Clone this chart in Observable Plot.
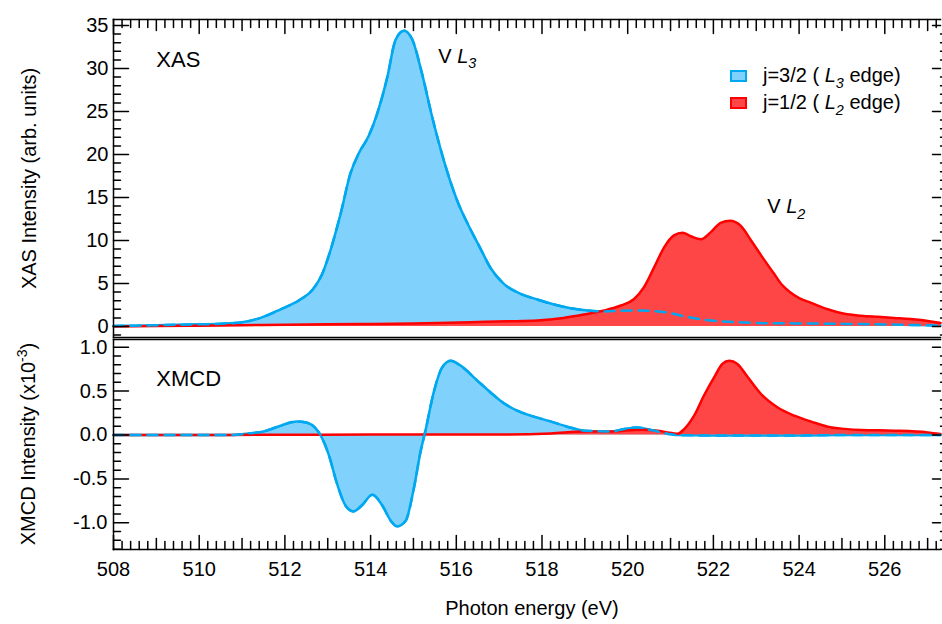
<!DOCTYPE html>
<html><head><meta charset="utf-8">
<script src="https://cdn.jsdelivr.net/npm/d3@7"></script>
<script src="https://cdn.jsdelivr.net/npm/@observablehq/plot@0.6"></script>
<style>
body{margin:0;background:#fff;}
#wrap{position:relative;width:942px;height:624px;overflow:hidden;background:#fff;}
#wrap svg{position:absolute;left:0;}
</style></head><body><div id="wrap"></div>
<script>
// ---------- data ----------
const xasEnergyL3 = [508, 508.5, 509, 509.5, 510, 510.5, 511, 511.4, 511.9, 512.35, 512.65, 512.87, 513.06, 513.3, 513.53, 513.72, 513.96, 514.15, 514.39, 514.58, 514.78, 514.97, 515.2, 515.44, 515.71, 516.02, 516.33, 516.57, 516.8, 517.11, 517.5, 517.89, 518.28, 518.67, 519.06, 519.45, 519.84, 520.23, 520.62, 521.0, 521.3, 521.63, 521.94, 522.56, 523.19, 523.9, 524.7, 525.45, 526.4, 527.3];
const xasIntensityL3 = [0.05, 0.1, 0.15, 0.2, 0.25, 0.32, 0.5, 0.95, 2.0, 3.1, 4.3, 6.1, 8.8, 13.1, 17.8, 20.1, 22.2, 24.7, 29.0, 33.3, 34.4, 33.4, 29.4, 24.3, 19.3, 14.65, 11.3, 9.0, 6.8, 4.96, 3.8, 3.14, 2.56, 2.13, 1.86, 1.74, 1.84, 1.86, 1.78, 1.55, 1.2, 0.9, 0.7, 0.5, 0.38, 0.36, 0.32, 0.28, 0.2, 0.12];

const xasEnergyL2 = [508, 509, 510, 511, 512, 513, 514, 515, 516.33, 517.2, 517.89, 518.5, 518.98, 519.45, 519.84, 520.15, 520.38, 520.62, 520.85, 521.08, 521.28, 521.47, 521.71, 521.94, 522.17, 522.39, 522.64, 522.88, 523.11, 523.42, 523.6, 523.8, 524.0, 524.28, 524.67, 525.06, 525.45, 525.84, 526.22, 526.6, 526.85, 527.3];
const xasIntensityL2 = [0.0, 0.05, 0.1, 0.15, 0.2, 0.25, 0.3, 0.35, 0.5, 0.6, 0.7, 1.0, 1.4, 1.86, 2.44, 3.2, 4.57, 6.9, 9.2, 10.6, 10.9, 10.5, 10.15, 10.97, 12.06, 12.3, 11.7, 10.0, 8.3, 6.1, 4.85, 3.95, 3.3, 2.75, 2.0, 1.47, 1.25, 1.12, 1.0, 0.88, 0.75, 0.4];

const xmcdEnergyL3 = [508, 509, 510, 510.73, 511.19, 511.5, 511.9, 512.28, 512.52, 512.71, 512.83, 513.02, 513.22, 513.41, 513.6, 513.8, 514.04, 514.27, 514.47, 514.62, 514.82, 515.0, 515.17, 515.28, 515.48, 515.67, 515.87, 516.1, 516.49, 516.8, 517.03, 517.42, 517.81, 518.2, 518.59, 518.98, 519.6, 519.92, 520.23, 520.54, 520.93, 521.16, 522, 523, 524, 525, 526, 527.3];
const xmcdIntensityL3 = [0, 0, 0, 0, 0.02, 0.04, 0.106, 0.155, 0.14, 0.08, 0.0, -0.22, -0.56, -0.8, -0.87, -0.8, -0.68, -0.8, -0.976, -1.04, -0.976, -0.63, -0.18, 0.05, 0.5, 0.77, 0.846, 0.79, 0.62, 0.485, 0.39, 0.277, 0.21, 0.155, 0.095, 0.05, 0.04, 0.068, 0.087, 0.057, 0.015, 0.0, -0.005, -0.005, -0.005, 0, 0, 0];

const xmcdEnergyL2 = [508, 510, 512, 514, 516, 517.03, 518.2, 518.98, 519.6, 520.3, 520.7, 520.93, 521.16, 521.32, 521.55, 521.78, 522.02, 522.21, 522.37, 522.56, 522.8, 523.11, 523.5, 523.89, 524.3, 524.67, 525.06, 525.45, 526.22, 527.0, 527.3];
const xmcdIntensityL2 = [0, 0, 0.003, 0.005, 0.005, 0.005, 0.017, 0.04, 0.04, 0.06, 0.05, 0.03, 0.015, 0.068, 0.22, 0.45, 0.66, 0.81, 0.846, 0.81, 0.66, 0.467, 0.314, 0.22, 0.15, 0.095, 0.07, 0.057, 0.05, 0.03, 0.011];

const xasYTicks = [0, 5, 10, 15, 20, 25, 30, 35];
const xmcdYTicks = [-1.0, -0.5, 0.0, 0.5, 1.0];
const energyTicks = [508, 510, 512, 514, 516, 518, 520, 522, 524, 526];

const seriesNames = ["j=3/2 ( ", "j=1/2 ( "];
const seriesEdges = ["3", "2"];

// ---------- style ----------
const FONT = "'Liberation Sans', Arial, Helvetica, sans-serif";
const FS = 20;
const blueLine = "#00a8f0", blueFill = "#80d2fd", redLine = "#ff0000", redFill = "#ff4646";
const LW = 2.5;
const DASH = "10,7";

const rows = (E, V) => E.map((e, i) => ({e, v: V[i]}));
const xasL3 = rows(xasEnergyL3, xasIntensityL3);
const xasL2 = rows(xasEnergyL2, xasIntensityL2);
const xmcdL3 = rows(xmcdEnergyL3, xmcdIntensityL3);
const xmcdL2 = rows(xmcdEnergyL2, xmcdIntensityL2);

// ---------- tick helpers ----------
const tickShape = {draw(ctx, l) { ctx.moveTo(0, 0); ctx.lineTo(0, -l); }};
function tickMarks(values, anchor, len, rotate, sw = 1.5) {
  const ch = (anchor === "left" || anchor === "right") ? {y: d => d} : {x: d => d};
  return Plot.vector(values, {...ch, frameAnchor: anchor, length: len, rotate, anchor: "start",
    shape: tickShape, stroke: "black", strokeWidth: sw});
}
const eIdx = d3.range(0, 97);
const eMajor = eIdx.filter(i => i % 10 === 0).map(i => 508 + i * 0.2);
const eMid = eIdx.filter(i => i % 10 === 5).map(i => 508 + i * 0.2);
const eMinor = eIdx.filter(i => i % 5 !== 0).map(i => 508 + i * 0.2);

const xasMinor = d3.range(-1, 36).filter(v => v % 5 !== 0);
const xmcdMinor = d3.range(-13, 11).filter(i => i % 5 !== 0).map(i => i / 10);

function curveMarks(data, fill, stroke) {
  return [
    Plot.areaY(data, {x: "e", y: "v", fill, curve: "monotone-x"}),
    Plot.lineY(data, {x: "e", y: "v", stroke, strokeWidth: LW, curve: "monotone-x"})
  ];
}
function dashed(data) {
  return Plot.lineY(data, {x: "e", y: "v", stroke: blueLine, strokeWidth: LW, strokeDasharray: DASH, curve: "monotone-x"});
}

function addParts(t, parts, size) {
  for (const p of parts) {
    const s = t.append("tspan").text(p.text);
    if (p.italic) s.attr("font-style", "italic");
    if (p.sub) s.attr("font-size", size * 0.72).attr("dy", size * 0.28);
    if (p.sup) s.attr("font-size", size * 0.7).attr("dy", -size * 0.42);
    if (p.dy) s.attr("dy", p.dy);
  }
}
function richText(xv, yv, parts, size = FS) {
  return (index, scales) => {
    const t = d3.create("svg:text")
      .attr("x", scales.x(xv)).attr("y", scales.y(yv)).attr("text-anchor", "start")
      .attr("font-family", FONT).attr("font-size", size).attr("fill", "black");
    addParts(t, parts, size);
    return t.node();
  };
}

const wrap = document.getElementById("wrap");

// ---------- XAS panel ----------
const xasPlot = Plot.plot({
  width: 942, height: 340,
  marginLeft: 113, marginRight: 2, marginTop: 19, marginBottom: 3,
  style: {fontFamily: FONT, fontSize: FS + "px", background: "transparent", overflow: "visible"},
  x: {domain: [508, 527.3], axis: null},
  y: {domain: [-1.28, 35.7], axis: null},
  marks: [
    ...curveMarks(xasL3, blueFill, blueLine),
    ...curveMarks(xasL2, redFill, redLine),
    dashed(xasL3),
    Plot.frame({anchor: "top", strokeWidth: 1.5}),
    Plot.frame({anchor: "left", strokeWidth: 1.5}),
    Plot.frame({anchor: "bottom", strokeWidth: 1.5}),
    tickMarks(xasYTicks, "left", 15, 90),
    tickMarks(xasMinor, "left", 7, 90),
    tickMarks(xasYTicks, "right", 8, -90),
    tickMarks(xasMinor, "right", 3, 90),
    tickMarks(eMajor, "top", 14, 180),
    tickMarks(eMid, "top", 11, 180),
    tickMarks(eMinor, "top", 8, 180),
    Plot.axisY({ticks: xasYTicks, tickSize: 0, tickPadding: 5, label: null, tickFormat: d => String(d), fontSize: FS}),
    Plot.text(["XAS Intensity (arb. units)"], {frameAnchor: "left", rotate: -90, dx: -78, lineAnchor: "bottom", textAnchor: "middle", fontSize: FS}),
    Plot.text(["XAS"], {x: () => 509.0, y: () => 30.2, textAnchor: "start", lineAnchor: "bottom", fontSize: 22}),
    richText(515.59, 30.6, [{text: "V "}, {text: "L", italic: true}, {text: "3", italic: true, sub: true}]),
    richText(523.27, 13.1, [{text: "V "}, {text: "L", italic: true}, {text: "2", italic: true, sub: true}]),
    () => {
      const g = d3.create("svg:g").attr("font-family", FONT).attr("font-size", FS).attr("fill", "black").attr("text-anchor", "start");
      const fills = [blueFill, redFill], strokes = [blueLine, redLine];
      seriesNames.forEach((name, i) => {
        const y = 71 + i * 27;
        g.append("rect").attr("x", 731).attr("y", y).attr("width", 15).attr("height", 10)
          .attr("fill", fills[i]).attr("stroke", strokes[i]).attr("stroke-width", 2);
        const t = g.append("text").attr("x", 763).attr("y", y + 11);
        addParts(t, [{text: name}, {text: "L", italic: true}, {text: seriesEdges[i], italic: true, sub: true}, {text: " edge)", dy: -FS * 0.28}], FS);
      });
      return g.node();
    }
  ]
});
xasPlot.style.top = "0px";
wrap.appendChild(xasPlot);

// ---------- XMCD panel ----------
const xmcdPlot = Plot.plot({
  width: 942, height: 304,
  marginLeft: 113, marginRight: 2, marginTop: 19, marginBottom: 75,
  style: {fontFamily: FONT, fontSize: FS + "px", background: "transparent", overflow: "visible"},
  x: {domain: [508, 527.3], axis: null},
  y: {domain: [-1.304, 1.088], axis: null},
  marks: [
    ...curveMarks(xmcdL3, blueFill, blueLine),
    ...curveMarks(xmcdL2, redFill, redLine),
    dashed(xmcdL3),
    Plot.frame({anchor: "top", strokeWidth: 1.5}),
    Plot.frame({anchor: "left", strokeWidth: 1.5}),
    Plot.frame({anchor: "bottom", strokeWidth: 1.5}),
    tickMarks(xmcdYTicks, "left", 15, 90),
    tickMarks(xmcdMinor, "left", 7, 90),
    tickMarks(xmcdYTicks, "right", 8, -90),
    tickMarks(xmcdMinor, "right", 3, 90),
    tickMarks(eMajor, "bottom", 14, 0),
    tickMarks(eMid, "bottom", 11, 0),
    tickMarks(eMinor, "bottom", 8, 0),
    Plot.axisY({ticks: xmcdYTicks, tickSize: 0, tickPadding: 6, label: null, tickFormat: d => d.toFixed(1), fontSize: FS}),
    Plot.axisX({ticks: energyTicks, tickSize: 0, tickPadding: 12, label: null, tickFormat: d => String(d), fontSize: FS}),
    Plot.text(["Photon energy (eV)"], {frameAnchor: "bottom", dy: 65, dx: 5, lineAnchor: "bottom", textAnchor: "middle", fontSize: FS}),
    Plot.text(["XMCD"], {x: () => 509.0, y: () => 0.56, textAnchor: "start", lineAnchor: "bottom", fontSize: 22}),
    (index, scales, values, dims) => {
      const cy = (dims.marginTop + dims.height - dims.marginBottom) / 2;
      const t = d3.create("svg:text")
        .attr("transform", `translate(35,${cy}) rotate(-90)`)
        .attr("text-anchor", "middle").attr("font-family", FONT).attr("font-size", FS).attr("fill", "black");
      addParts(t, [{text: "XMCD Intensity (x10"}, {text: "-3", sup: true}, {text: ")", dy: FS * 0.42}], FS);
      return t.node();
    }
  ]
});
xmcdPlot.style.top = "320px";
wrap.appendChild(xmcdPlot);
</script>
</body></html>
